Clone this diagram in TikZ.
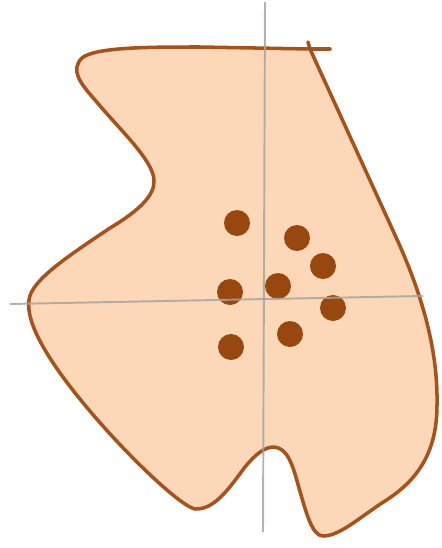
\documentclass[tikz,border=0pt]{standalone}
\usepackage{tikz}
\definecolor{pskin}{HTML}{FCD8B8}
\definecolor{pbrown}{HTML}{A5521B}
\definecolor{pdot}{HTML}{98480E}
\definecolor{pgray}{HTML}{A4A4A4}
\tikzset{
  outline/.style={draw=pbrown, line width=2pt, line join=round, line cap=round},
  axis/.style={pgray, line width=1.1pt, opacity=0.85}
}

\begin{document}
\begin{tikzpicture}[x=0.02cm, y=-0.02cm]
 \useasboundingbox (0,0) rectangle (441,548);
 \coordinate (corner) at (310,49);
 % the blob
 \filldraw[outline, fill=pskin] (corner) -- (395,235)
   .. controls (425,300) and (438,355) .. (437,405)
   .. controls (437,452) and (418,480) .. (385,501)
   .. controls (360,517) and (340,536) .. (323,536)
   .. controls (312,536) and (306,512) .. (299,488)
   .. controls (293,466) and (288,448) .. (274,447)
   .. controls (264,447) and (255,455) .. (245,467)
   .. controls (230,487) and (215,510) .. (195,509)
   .. controls (175,505) and (80,410) .. (45,350)
   .. controls (35,333) and (27,315) .. (29,300)
   .. controls (31,280) and (70,255) .. (110,228)
   .. controls (140,210) and (155,195) .. (154,180)
   .. controls (153,160) and (120,130) .. (95,100)
   .. controls (80,83) and (70,70) .. (82,58)
   .. controls (95,47) and (150,47) .. (200,47)
   -- cycle;
 \draw[outline] (corner) -- (330,49);
 \draw[outline] (308,42) -- (corner);
 % points
 \foreach \p in {(237,223),(297,238),(323,266),(230,292),(278,286),(333,308),(290,334),(231,347)}
   \fill[pdot] \p circle (13);
 % axes
 \draw[axis] (265,2) -- (263,532);
 \draw[axis] (10,304) -- (423,296);
\end{tikzpicture}
\end{document}
